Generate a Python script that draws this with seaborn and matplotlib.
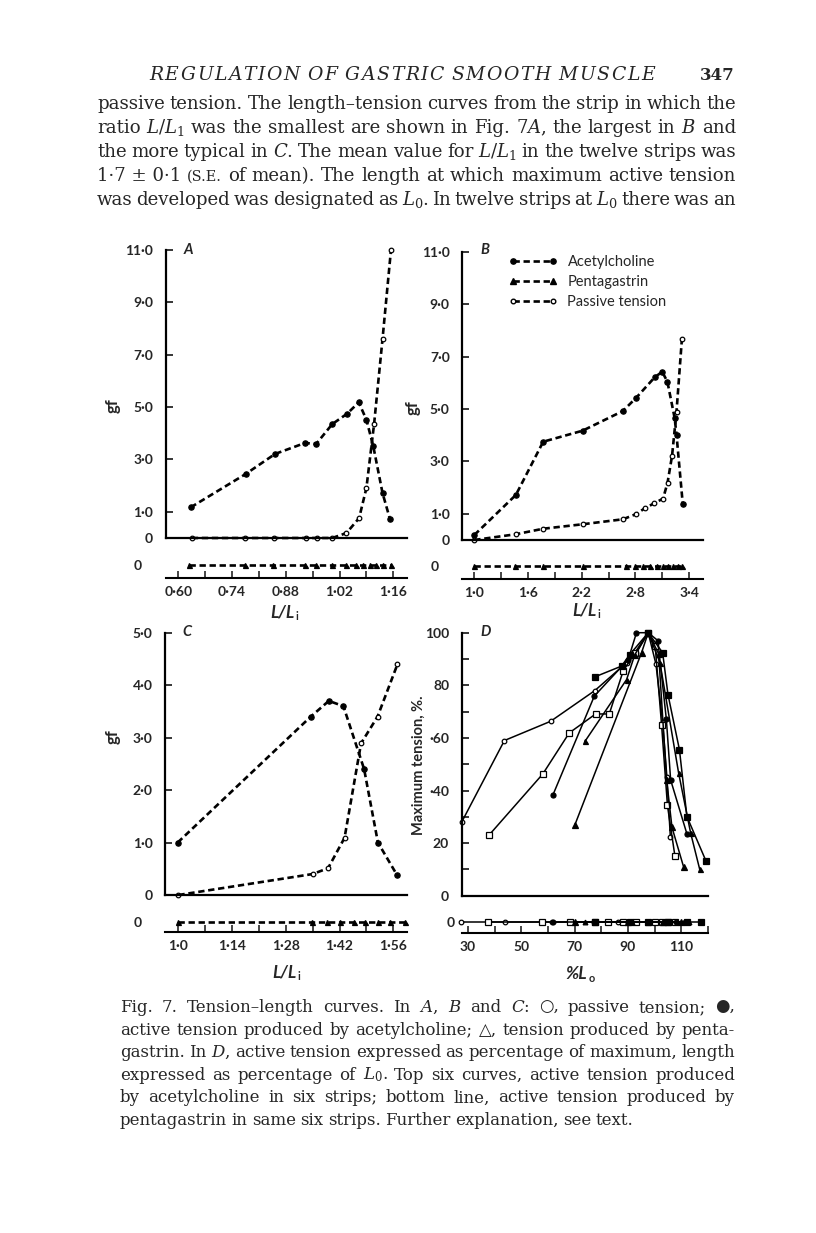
import matplotlib
matplotlib.use('Agg')
import matplotlib.pyplot as plt
import seaborn as sns
from matplotlib.lines import Line2D

sns.set_style('white')
plt.rcParams['font.family'] = ['Lato', 'DejaVu Sans']
plt.rcParams['mathtext.fontset'] = 'dejavuserif'

# ---- panel A (L/Li vs gf) ----
a_ach_x = [0.632, 0.775, 0.852, 0.930, 0.959, 1.001, 1.040, 1.070, 1.090, 1.108, 1.132, 1.151]
a_ach_y = [1.17, 2.44, 3.21, 3.63, 3.59, 4.35, 4.75, 5.18, 4.52, 3.50, 1.72, 0.74]
a_pas_x = [0.635, 0.774, 0.850, 0.932, 0.962, 1.001, 1.038, 1.071, 1.090, 1.110, 1.132, 1.154]
a_pas_y = [0, 0, 0, 0, 0, 0, 0.19, 0.76, 1.91, 4.35, 7.6, 11.0]
a_pg_x = [0.629, 0.774, 0.847, 0.930, 0.959, 1.001, 1.038, 1.064, 1.082, 1.099, 1.116, 1.134, 1.154]

# ---- panel B ----
b_ach_x = [1.0, 1.465, 1.77, 2.21, 2.66, 2.81, 3.017, 3.10, 3.158, 3.24, 3.26, 3.33]
b_ach_y = [0.19, 1.72, 3.75, 4.17, 4.92, 5.43, 6.21, 6.42, 6.04, 4.64, 4.01, 1.37]
b_pas_x = [1.0, 1.465, 1.77, 2.21, 2.66, 2.81, 2.905, 3.01, 3.11, 3.16, 3.21, 3.26, 3.32]
b_pas_y = [0, 0.22, 0.43, 0.60, 0.79, 0.99, 1.21, 1.40, 1.58, 2.19, 3.21, 4.90, 7.66]
b_pg_x = [1.0, 1.45, 1.77, 2.21, 2.70, 2.80, 2.89, 2.96, 3.04, 3.11, 3.17, 3.22, 3.28, 3.32]

# ---- panel C ----
c_ach_x = [0.998, 1.345, 1.392, 1.43, 1.484, 1.52, 1.569]
c_ach_y = [1.0, 3.40, 3.70, 3.60, 2.40, 1.0, 0.39]
c_pas_x = [1.0, 1.35, 1.39, 1.433, 1.476, 1.519, 1.571]
c_pas_y = [0, 0.40, 0.51, 1.09, 2.89, 3.40, 4.40]
c_pg_x = [1.0, 1.348, 1.387, 1.422, 1.457, 1.487, 1.521, 1.552, 1.591]

# ---- panel D (%L0 vs % max tension), six strips ----
d1_x = [27.8, 43.7, 61.0, 77.6, 89.5, 93.2, 97.6, 100.5, 103.0, 104.6, 105.9]
d1_y = [28.2, 59.0, 66.3, 78.0, 88.6, 92.4, 100, 88, 66, 45, 22.2]
d2_x = [38.0, 58.1, 68.0, 77.9, 83.0, 88.2, 92.6, 97.6, 100.2, 102.6, 104.8, 107.6]
d2_y = [23.1, 46.3, 61.9, 69.1, 69.1, 85.4, 92.4, 100, 95, 65, 34.3, 15.1]
d3_x = [61.8, 77.4, 90.1, 93.2, 97.6, 101.2, 104.4, 106.0, 112.1]
d3_y = [38.1, 75.9, 89.8, 100, 100, 97, 67, 44, 23.5]
d4_x = [70.1, 95.1, 97.6, 101.5, 104.5, 106.5, 110.9]
d4_y = [26.9, 92.4, 100, 92, 44, 26, 10.8]
d5_x = [73.9, 89.5, 92.6, 97.6, 102.0, 109.0, 113.5, 116.9]
d5_y = [58.7, 82.2, 91.7, 100, 88.6, 46.6, 23.8, 10.0]
d6_x = [77.6, 87.6, 90.7, 97.6, 103.0, 105.0, 109.3, 112.1, 119.2]
d6_y = [83.2, 87.3, 91.7, 100, 92.4, 76.5, 55.5, 30.1, 13.3]
# pentagastrin, same six strips (all zero)
dpg1_x = [27.5, 44.0, 61.4, 86.4, 93.0, 100.5, 104.5]
dpg2_x = [37.7, 57.7, 68.3, 77.6, 82.6, 88.2, 93.2, 100.0, 102.6, 105.0, 107.6]
dpg3_x = [61.8, 77.4, 90.1, 97.6, 103.5, 108.0, 111.3]
dpg4_x = [70.1, 90.1, 97.6, 103.0, 110.0]
dpg5_x = [73.9, 91.5, 97.6, 104.0, 113.0]
dpg6_x = [77.6, 90.7, 97.6, 105.0, 112.0, 117.5]

body_lines = [
    "passive tension. The length\u2013tension curves from the strip in which the",
    "ratio $L/L_1$ was the smallest are shown in Fig. 7$A$, the largest in $B$ and",
    "the more typical in $C$. The mean value for $L/L_1$ in the twelve strips was",
    "1\u00b77\u00a0\u00b1\u00a00\u00b71 ^(S.E. of mean). The length at which maximum active tension",
    "was developed was designated as $L_0$. In twelve strips at $L_0$ there was an",
]
caption_lines = [
    "Fig. 7. Tension\u2013length curves. In $A$, $B$ and $C$: \u25cb, passive tension; \u25cf,",
    "active tension produced by acetylcholine; \u25b3, tension produced by penta-",
    "gastrin. In $D$, active tension expressed as percentage of maximum, length",
    "expressed as percentage of $L_0$. Top six curves, active tension produced",
    "by acetylcholine in six strips; bottom line, active tension produced by",
    "pentagastrin in same six strips. Further explanation, see text.",
]

W, H = 816, 1233
fig = plt.figure(figsize=(W / 100, H / 100), dpi=100)
fig.patch.set_facecolor('white')
renderer = fig.canvas.get_renderer()
SERIF = ['DejaVu Serif', 'DejaVu Sans']
DASH = (0, (2.4, 1.4))


def box(l, r, t, b):
    return [l / W, 1 - b / H, (r - l) / W, (b - t) / H]


def curve(ax, x, y, marker, filled, dashed=True, ms=3.8, label=None):
    ls = DASH if dashed else '-'
    lw = 1.9 if dashed else 1.1
    sns.lineplot(x=x, y=y, ax=ax, sort=False, estimator=None, errorbar=None,
                 color='black', lw=lw, linestyle=ls, marker=marker, markersize=ms,
                 markerfacecolor='black' if filled else 'white',
                 markeredgecolor='black', markeredgewidth=0.9,
                 clip_on=False, label=label, legend=False)


def style_main(ax, xlim, ylim, yt, ylab, minor=None):
    ax.set_xlim(xlim)
    ax.set_ylim(ylim)
    for s in ['top', 'right']:
        ax.spines[s].set_visible(False)
    for s in ['left', 'bottom']:
        ax.spines[s].set_linewidth(1.6)
        ax.spines[s].set_color('black')
    ax.set_xticks([])
    ax.set_yticks(yt, ylab)
    if minor is not None:
        ax.set_yticks(minor, minor=True)
    ax.tick_params(axis='y', which='both', direction='in', length=5, width=1.3,
                   pad=9, labelsize=10, left=True)
    for t in ax.get_yticklabels():
        t.set_fontweight('bold')
    ax.set_xlabel('')
    ax.set_ylabel('')
    ax.patch.set_alpha(0)


def style_strip(ax, xlim, major, labels, minor):
    ax.set_xlim(xlim)
    ax.set_ylim(-1, 1)
    for s in ['top', 'right', 'left']:
        ax.spines[s].set_visible(False)
    ax.spines['bottom'].set_linewidth(1.5)
    ax.spines['bottom'].set_color('black')
    ax.set_yticks([0], ['0'])
    ax.tick_params(axis='y', length=0, pad=17, labelsize=10)
    ax.set_xticks(major, labels)
    ax.set_xticks(minor, minor=True)
    ax.tick_params(axis='x', which='both', direction='in', length=5, width=1.2,
                   pad=6, labelsize=10, bottom=True)
    for t in ax.get_xticklabels() + ax.get_yticklabels():
        t.set_fontweight('bold')
    ax.set_xlabel('')
    ax.set_ylabel('')
    ax.patch.set_alpha(0)


def words_of(s, size):
    out = []
    for w in s.split(' '):
        if w.startswith('^'):
            out.append((w[1:], 0.8))
        else:
            out.append((w, 1.0))
    return out


def natural_width(s, size):
    tot = 0
    ws = words_of(s, size)
    for w, f in ws:
        t = fig.text(0, 0, w, fontsize=size * f, family=SERIF)
        tot += t.get_window_extent(renderer).width
        t.remove()
    return tot + (len(ws) - 1) * 0.27 * size * 100 / 72


def paragraph(lines, x0, x1, yb0, step, base):
    # font size chosen so that the tightest justified line fits with normal spaces
    fac = min((x1 - x0) / natural_width(s, base) for s in lines[:-1])
    size = base * fac
    for i, s in enumerate(lines):
        put_line(s, x0, x1, yb0 + step * i, size, justify=(i < len(lines) - 1) or just_last)
    return size


def put_line(s, x0, x1, yb, size, justify=True):
    ts, ws = [], []
    for w, f in words_of(s, size):
        t = fig.text(0, 1 - yb / H, w, fontsize=size * f, family=SERIF, va='baseline', ha='left')
        ts.append(t)
        ws.append(t.get_window_extent(renderer).width)
    if justify and len(ts) > 1:
        gap = (x1 - x0 - sum(ws)) / (len(ts) - 1)
    else:
        gap = 0.27 * size * 100 / 72
    x = x0
    for t, w in zip(ts, ws):
        t.set_x(x / W)
        x += w + gap


def tracked(s, x0, x1, yb, size, **kw):
    ts, ws = [], []
    for ch in s:
        t = fig.text(0, 1 - yb / H, ch, fontsize=size, va='baseline', ha='left', **kw)
        ts.append(t)
        ws.append(size * 0.3 if ch == ' ' else t.get_window_extent(renderer).width)
    extra = (x1 - x0 - sum(ws)) / (len(s) - 1)
    x = x0
    for t, w in zip(ts, ws):
        t.set_x(x / W)
        x += w + extra


def sub_label(xc, yc, main, sub, size=12.5):
    # italic bold label with a small subscript, e.g. L/Li
    t = fig.text(0, 1 - yc / H, main, fontsize=size, fontweight='bold', fontstyle='italic',
                 ha='left', va='center')
    s = fig.text(0, 1 - (yc + 4) / H, sub, fontsize=size * 0.62, fontweight='bold',
                 ha='left', va='center')
    w1 = t.get_window_extent(renderer).width
    w2 = s.get_window_extent(renderer).width
    x = xc - (w1 + w2 + 1) / 2
    t.set_x(x / W)
    s.set_x((x + w1 + 1) / W)


# ---- axes ----
axA = fig.add_axes(box(165.7, 406.7, 250, 538))
axAs = fig.add_axes(box(165.7, 406.7, 552, 578))
axB = fig.add_axes(box(462.3, 703, 251.7, 540))
axBs = fig.add_axes(box(462.3, 703, 553, 579))
axC = fig.add_axes(box(165, 406.7, 632.7, 895))
axCs = fig.add_axes(box(165, 406.7, 911.7, 931.7))
axD = fig.add_axes(box(461.7, 708, 632.7, 895.7))
axDs = fig.add_axes(box(461.7, 708, 910.7, 932.7))

gf_ticks = ['0', '1\u00b70', '3\u00b70', '5\u00b70', '7\u00b70', '9\u00b70', '11\u00b70']
yl = [0, 1, 3, 5, 7, 9, 11]

# A
curve(axA, a_ach_x, a_ach_y, 'o', True)
curve(axA, a_pas_x, a_pas_y, 'o', False, ms=3.3)
curve(axAs, a_pg_x, [0] * len(a_pg_x), '^', True, ms=3.6)
style_main(axA, (0.567, 1.195), (0, 11), yl, gf_ticks)
style_strip(axAs, (0.567, 1.195), [0.60, 0.74, 0.88, 1.02, 1.16],
            ['0\u00b760', '0\u00b774', '0\u00b788', '1\u00b702', '1\u00b716'],
            [0.67, 0.81, 0.95, 1.09])

# B
curve(axB, b_ach_x, b_ach_y, 'o', True)
curve(axB, b_pas_x, b_pas_y, 'o', False, ms=3.3)
curve(axBs, b_pg_x, [0] * len(b_pg_x), '^', True, ms=3.6)
style_main(axB, (0.866, 3.556), (0, 11), yl, gf_ticks)
style_strip(axBs, (0.866, 3.556), [1.0, 1.6, 2.2, 2.8, 3.4],
            ['1\u00b70', '1\u00b76', '2\u00b72', '2\u00b78', '3\u00b74'],
            [1.3, 1.9, 2.5, 3.1])
hd = [Line2D([], [], color='black', lw=1.9, ls=DASH, marker='o', ms=3.8, mfc='black', mec='black'),
      Line2D([], [], color='black', lw=1.9, ls=DASH, marker='^', ms=3.8, mfc='black', mec='black'),
      Line2D([], [], color='black', lw=1.9, ls=DASH, marker='o', ms=3.3, mfc='white', mec='black')]
axB.legend(hd, ['Acetylcholine', 'Pentagastrin', 'Passive tension'], loc='upper left',
           bbox_to_anchor=(0.14, 1.035), frameon=False, numpoints=2, handlelength=3.3,
           handletextpad=0.7, labelspacing=0.42, fontsize=10.5)

# C
curve(axC, c_ach_x, c_ach_y, 'o', True)
curve(axC, c_pas_x, c_pas_y, 'o', False, ms=3.3)
curve(axCs, c_pg_x, [0] * len(c_pg_x), '^', True, ms=3.6)
style_main(axC, (0.965, 1.595), (0, 5), [0, 1, 2, 3, 4, 5],
           ['0', '1\u00b70', '2\u00b70', '3\u00b70', '4\u00b70', '5\u00b70'])
style_strip(axCs, (0.965, 1.595), [1.0, 1.14, 1.28, 1.42, 1.56],
            ['1\u00b70', '1\u00b714', '1\u00b728', '1\u00b742', '1\u00b756'],
            [1.07, 1.21, 1.35, 1.49])

# D
d_sets = [(d1_x, d1_y, 'o', False, 3.3), (d2_x, d2_y, 's', False, 4.0),
          (d3_x, d3_y, 'o', True, 3.6), (d4_x, d4_y, '^', True, 4.2),
          (d5_x, d5_y, '^', True, 3.6), (d6_x, d6_y, 's', True, 3.8)]
for x, y, m, f, ms in d_sets:
    curve(axD, x, y, m, f, dashed=False, ms=ms)
pg_sets = [(dpg1_x, 'o', False, 3.3), (dpg2_x, 's', False, 4.0), (dpg3_x, 'o', True, 3.4),
           (dpg4_x, '^', True, 3.8), (dpg5_x, '^', True, 3.4), (dpg6_x, 's', True, 3.8)]
for x, m, f, ms in pg_sets:
    curve(axDs, x, [0] * len(x), m, f, dashed=False, ms=ms)
style_main(axD, (27.7, 120), (0, 100), [0, 20, 40, 60, 80, 100],
           ['0', '20', '\u00b740', '\u00b760', '80', '100'], minor=[10, 30, 50, 70, 90])
style_strip(axDs, (27.7, 120), [30, 50, 70, 90, 110], ['30', '50', '70', '90', '110'],
            [40, 60, 80, 100, 120])
axDs.tick_params(axis='y', pad=5)

# ---- axis labels & panel letters ----
sub_label(284, 613, 'L/L', 'i')
sub_label(586, 611, 'L/L', 'i')
sub_label(286, 972, 'L/L', 'i')
sub_label(580, 974, '%L', 'o')
lab = dict(fontweight='bold', ha='center', va='center')
fig.text(113 / W, 1 - 406 / H, 'gf', fontsize=12, rotation=90, **lab)
fig.text(413 / W, 1 - 408 / H, 'gf', fontsize=12, rotation=90, **lab)
fig.text(113 / W, 1 - 737 / H, 'gf', fontsize=12, rotation=90, **lab)
fig.text(419 / W, 1 - 765 / H, 'Maximum tension, %.', fontsize=10.5, rotation=90, **lab)
let = dict(fontweight='bold', fontstyle='italic', ha='center', va='center', fontsize=10.5)
fig.text(188 / W, 1 - 250 / H, 'A', **let)
fig.text(485 / W, 1 - 250 / H, 'B', **let)
fig.text(187 / W, 1 - 632 / H, 'C', **let)
fig.text(486 / W, 1 - 632 / H, 'D', **let)

# ---- page text ----
tracked('REGULATION OF GASTRIC SMOOTH MUSCLE', 149, 655, 80, 13.5,
        family=SERIF, fontstyle='italic')
fig.text(735 / W, 1 - 80 / H, '347', fontsize=12, family=SERIF, fontweight='bold',
         ha='right', va='baseline')
just_last = True
paragraph(body_lines, 97, 736, 109, 24, 12)
just_last = False
paragraph(caption_lines, 120, 735, 1012, 22.6, 11)

fig.savefig('out.png', dpi=100, facecolor='white')
